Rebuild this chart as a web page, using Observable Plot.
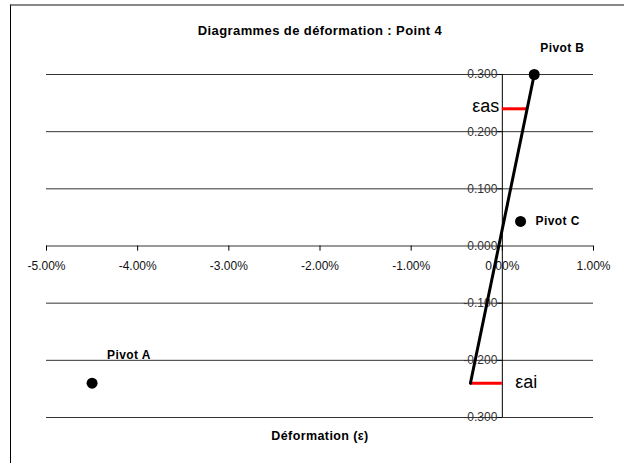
<!DOCTYPE html>
<html><head><meta charset="utf-8">
<script src="https://cdn.jsdelivr.net/npm/d3@7"></script>
<script src="https://cdn.jsdelivr.net/npm/@observablehq/plot@0.6"></script>
<style>
body{margin:0;background:#fff}
#c{position:relative;width:624px;height:463px;overflow:hidden}
#b{position:absolute;left:10px;top:4px;width:640px;height:480px;border-left:1px solid #000;border-top:2px solid #888;pointer-events:none}
svg{font-family:"Liberation Sans",Arial,sans-serif}
.wide text{letter-spacing:0.4px}
</style>
</head><body><div id="c"><div id="b"></div></div>
<script>
const title = "Diagrammes de déformation : Point 4";
const xLabel = "Déformation (ε)";
const xTicks = [-0.05, -0.04, -0.03, -0.02, -0.01, 0, 0.01];
const yTicks = [0.3, 0.2, 0.1, 0, -0.1, -0.2, -0.3];
const strainX = [-0.0035, 0.0035];
const strainY = [-0.24, 0.30];
const pivotNames = ["Pivot A", "Pivot B", "Pivot C"];
const pivotX = [-0.045, 0.0035, 0.002];
const pivotY = [-0.24, 0.30, 0.043];
const epsNames = ["εas", "εai"];
const epsY = [0.24, -0.24];
const epsX1 = [0, -0.0035];
const epsX2 = [0.0027, 0];

const line = strainX.map((x, i) => ({x, y: strainY[i]}));
const pivots = pivotNames.map((name, i) => ({name, x: pivotX[i], y: pivotY[i]}));
const eps = epsNames.map((name, i) => ({name, y: epsY[i], x1: epsX1[i], x2: epsX2[i]}));
const pctFmt = d => (d * 100).toFixed(2) + "%";
const yFmt = d => d.toFixed(3);
const labelOff = {"Pivot A": [15, -28], "Pivot B": [6, -26], "Pivot C": [15, 0]};

const pivotLabels = pivots.map(p => Plot.text([p], {
  x: "x", y: "y", text: "name", textAnchor: "start",
  dx: labelOff[p.name][0], dy: labelOff[p.name][1],
  fontWeight: "bold", fontSize: 12, fill: "#000", className: "wide"
}));

const chart = Plot.plot({
  width: 624, height: 463,
  marginLeft: 46, marginRight: 31, marginTop: 74, marginBottom: 46,
  x: {domain: [-0.05, 0.01], axis: null},
  y: {domain: [-0.3, 0.3], axis: null},
  style: {fontFamily: "'Liberation Sans', Arial, sans-serif", background: "transparent"},
  marks: [
    Plot.ruleY(yTicks, {y: d => d, x1: -0.05, x2: 0.01, stroke: "#333", strokeWidth: 1}),
    Plot.ruleX([0], {y1: -0.3, y2: 0.3, stroke: "#000", strokeWidth: 1}),
    Plot.ruleY(yTicks, {y: d => d, x1: 0, x2: -0.0005, stroke: "#000"}),
    Plot.ruleX(xTicks, {x: d => d, y1: 0, y2: -0.009, stroke: "#000"}),
    Plot.text(yTicks, {x: 0, y: d => d, text: yFmt, dx: -5, textAnchor: "end", fontSize: 12, fill: "#333"}),
    Plot.text(xTicks, {x: d => d, y: 0, text: pctFmt, dy: 20, fontSize: 12, fill: "#111"}),
    Plot.ruleY(eps, {y: "y", x1: "x1", x2: "x2", stroke: "#ff0000", strokeWidth: 3}),
    Plot.text(eps.filter(d => d.name === "εas"), {x: 0, y: "y", text: "name", textAnchor: "end", dx: -3, dy: -3, fontSize: 18, fill: "#000"}),
    Plot.text(eps.filter(d => d.name === "εai"), {x: 0, y: "y", text: "name", textAnchor: "start", dx: 13, dy: -1, fontSize: 18, fill: "#000"}),
    Plot.line(line, {x: "x", y: "y", stroke: "#000", strokeWidth: 3}),
    Plot.dot(pivots, {x: "x", y: "y", r: 5.5, fill: "#000", stroke: "none"}),
    ...pivotLabels,
    Plot.text([title], {frameAnchor: "top", dy: -49, text: d => d, fontWeight: "bold", fontSize: 13, fill: "#000", className: "wide"}),
    Plot.text([xLabel], {frameAnchor: "bottom", dy: 22, text: d => d, fontWeight: "bold", fontSize: 12.5, fill: "#000", className: "wide"})
  ]
});
document.getElementById("c").prepend(chart);
</script>
</body></html>
